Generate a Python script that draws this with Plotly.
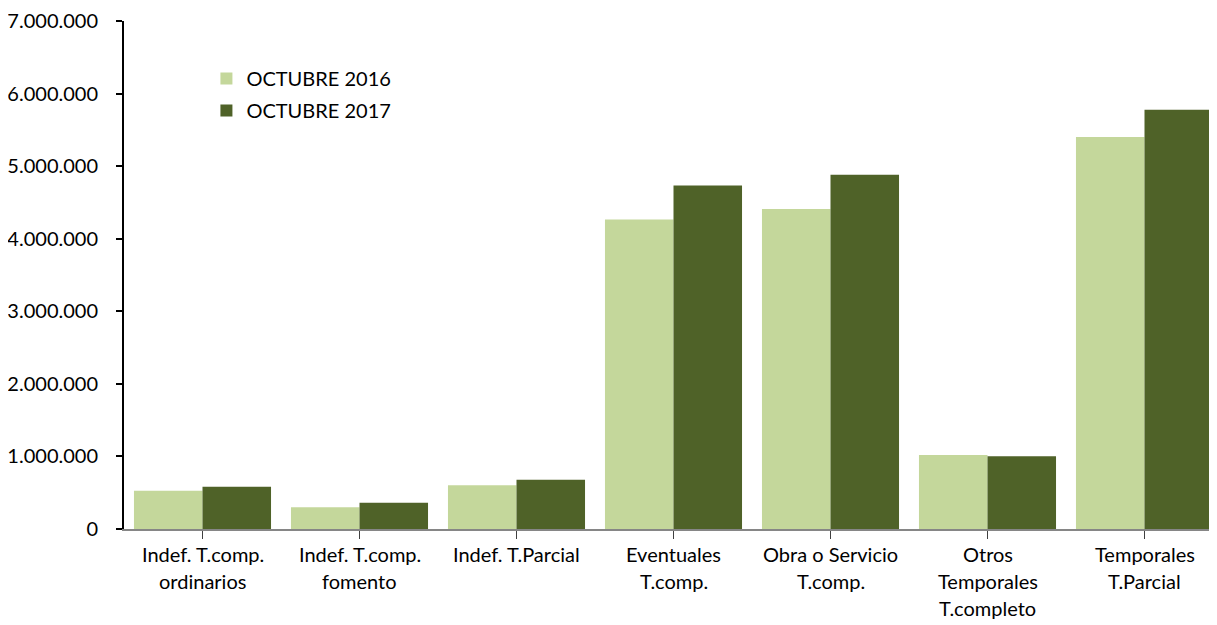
import plotly.graph_objects as go

categories = [
    "Indef. T.comp.<br>ordinarios",
    "Indef. T.comp.<br>fomento",
    "Indef. T.Parcial",
    "Eventuales<br>T.comp.",
    "Obra o Servicio<br>T.comp.",
    "Otros<br>Temporales<br>T.completo",
    "Temporales<br>T.Parcial",
]
series_names = ["OCTUBRE 2016", "OCTUBRE 2017"]
values_2016 = [527000, 298000, 604000, 4265000, 4410000, 1020000, 5403000]
values_2017 = [581000, 362000, 677000, 4732000, 4883000, 1001000, 5776000]
y_ticks = [0, 1000000, 2000000, 3000000, 4000000, 5000000, 6000000, 7000000]

FONT = "Lato"
colors = ["#C4D79B", "#4F6228"]

fig = go.Figure()
for name, vals, col in zip(series_names, [values_2016, values_2017], colors):
    fig.add_trace(go.Bar(
        x=list(range(len(categories))), y=vals, name=name,
        marker=dict(color=col, line=dict(width=0)),
        legendgroup=name,
    ))

# category labels as multi-line annotations
line_gap = 27
for i, lab in enumerate(categories):
    for j, line in enumerate(lab.split("<br>")):
        fig.add_annotation(
            x=i, y=0, xref="x", yref="paper", text=line, showarrow=False,
            yanchor="middle", xanchor="center", yshift=-(25 + j * line_gap),
            font=dict(family=FONT, size=20, color="#000000"),
        )

fig.update_layout(
    width=1217, height=625,
    margin=dict(l=116, r=2, t=13, b=104, autoexpand=False),
    paper_bgcolor="white", plot_bgcolor="white",
    barmode="group", bargap=0.127, bargroupgap=0,
    separators=",.",
    font=dict(family=FONT, size=20, color="#000000"),
    showlegend=True,
    legend=dict(
        x=0.075, y=0.925, xanchor="left", yanchor="top",
        font=dict(family=FONT, size=20, color="#000000"),
        bgcolor="rgba(0,0,0,0)", tracegroupgap=3,
    ),
    xaxis=dict(
        range=[-0.5, 6.5], tickvals=list(range(len(categories))),
        showticklabels=False, tickson="boundaries", ticks="outside",
        ticklen=8, tickcolor="#404040", tickwidth=1,
        showline=True, linecolor="#868686", linewidth=2,
        showgrid=False, zeroline=False, fixedrange=True, automargin=False,
    ),
    yaxis=dict(
        range=[0, 7000000], tickvals=y_ticks, tickformat=",d",
        ticks="outside", ticklen=6, tickcolor="#000000", tickwidth=1.5,
        ticklabelstandoff=14, ticklabeloverflow="allow",
        showline=True, linecolor="#000000", linewidth=2,
        showgrid=False, zeroline=False, automargin=False,
        tickfont=dict(family=FONT, size=20, color="#000000"),
        fixedrange=True,
    ),
)

fig.write_html("out.html")
